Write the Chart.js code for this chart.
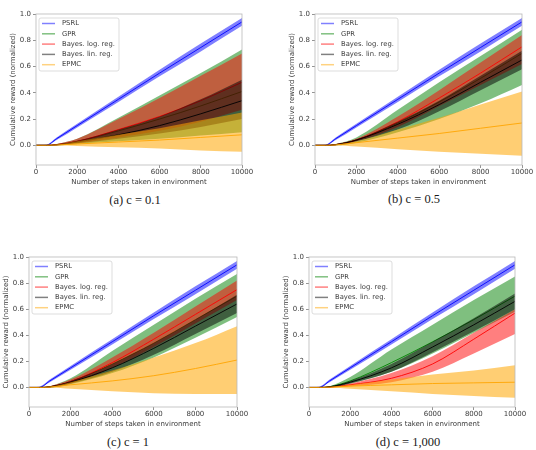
<!DOCTYPE html>
<html>
<head>
<meta charset="utf-8">
<script src="https://cdn.jsdelivr.net/npm/chart.js@4.4.0/dist/chart.umd.min.js"></script>
<style>
  html, body { margin: 0; padding: 0; background: #fff; }
  body { width: 536px; height: 450px; position: relative; overflow: hidden; }
  canvas { position: absolute; }
  .cap { position: absolute; font-family: "Liberation Serif", serif; font-size: 12.5px; color: #1a1a1a;
         transform: translate(-50%, -50%); white-space: nowrap; }
</style>
</head>
<body>
<script>
const steps = [0, 500, 1000, 2000, 4000, 6000, 8000, 10000];
const seriesNames = ['PSRL', 'GPR', 'Bayes. log. reg.', 'Bayes. lin. reg.', 'EPMC'];
const xTicks = [0, 2000, 4000, 6000, 8000, 10000];
const yTicks = [0, 0.2, 0.4, 0.6, 0.8, 1.0];

// PSRL looks the same in all four runs
const psrlMean = [0, 0, 0.05, 0.15, 0.35, 0.55, 0.745, 0.94];
const psrlLo   = [0, 0, 0.04, 0.135, 0.33, 0.525, 0.715, 0.91];
const psrlHi   = [0, 0.005, 0.06, 0.165, 0.37, 0.575, 0.775, 0.97];

// (a) c = 0.1
const aGpr    = [0, 0, 0.005, 0.03, 0.11, 0.2, 0.3, 0.41];
const aGprLo  = [0, 0, 0, 0.01, 0.03, 0.05, 0.075, 0.10];
const aGprHi  = [0, 0, 0.01, 0.05, 0.21, 0.38, 0.55, 0.73];
const aLog    = [0, 0, 0.005, 0.03, 0.12, 0.22, 0.34, 0.48];
const aLogLo  = [0, 0, 0, 0.015, 0.06, 0.11, 0.18, 0.27];
const aLogHi  = [0, 0, 0.01, 0.05, 0.2, 0.36, 0.53, 0.70];
const aLin    = [0, 0, 0.003, 0.025, 0.08, 0.15, 0.24, 0.34];
const aLinLo  = [0, 0, 0, 0.015, 0.05, 0.09, 0.14, 0.20];
const aLinHi  = [0, 0, 0.005, 0.035, 0.12, 0.22, 0.35, 0.50];
const aEpmc   = [0, 0, 0.002, 0.01, 0.025, 0.04, 0.06, 0.08];
const aEpmcLo = [0, 0, 0, -0.005, -0.015, -0.025, -0.04, -0.05];
const aEpmcHi = [0, 0, 0.005, 0.03, 0.08, 0.13, 0.19, 0.25];

// (b) c = 0.5
const bGpr    = [0, 0, 0.005, 0.04, 0.17, 0.33, 0.51, 0.70];
const bGprLo  = [0, 0, 0, 0.02, 0.1, 0.2, 0.32, 0.46];
const bGprHi  = [0, 0, 0.01, 0.06, 0.27, 0.48, 0.68, 0.88];
const bLog    = [0, 0, 0.005, 0.04, 0.18, 0.36, 0.55, 0.75];
const bLogLo  = [0, 0, 0, 0.03, 0.14, 0.3, 0.46, 0.62];
const bLogHi  = [0, 0, 0.01, 0.05, 0.22, 0.42, 0.63, 0.84];
const bLin    = [0, 0, 0.005, 0.04, 0.16, 0.31, 0.48, 0.65];
const bLinLo  = [0, 0, 0, 0.03, 0.12, 0.26, 0.42, 0.58];
const bLinHi  = [0, 0, 0.008, 0.045, 0.18, 0.34, 0.53, 0.72];
const bEpmc   = [0, 0, 0.003, 0.02, 0.055, 0.09, 0.13, 0.17];
const bEpmcLo = [0, 0, 0, -0.01, -0.03, -0.05, -0.065, -0.08];
const bEpmcHi = [0, 0, 0.005, 0.03, 0.12, 0.21, 0.31, 0.41];

// (c) c = 1
const cGpr    = [0, 0, 0.005, 0.045, 0.18, 0.34, 0.52, 0.70];
const cGprLo  = [0, 0, 0, 0.025, 0.11, 0.23, 0.38, 0.54];
const cGprHi  = [0, 0, 0.01, 0.07, 0.28, 0.48, 0.68, 0.87];
const cLog    = [0, 0, 0.005, 0.045, 0.19, 0.37, 0.56, 0.75];
const cLogLo  = [0, 0, 0, 0.03, 0.15, 0.31, 0.49, 0.67];
const cLogHi  = [0, 0, 0.01, 0.06, 0.23, 0.42, 0.62, 0.82];
const cLin    = [0, 0, 0.005, 0.04, 0.15, 0.30, 0.47, 0.64];
const cLinLo  = [0, 0, 0, 0.03, 0.12, 0.25, 0.41, 0.57];
const cLinHi  = [0, 0, 0.008, 0.05, 0.18, 0.34, 0.52, 0.71];
const cEpmc   = [0, 0, 0.003, 0.02, 0.05, 0.09, 0.145, 0.21];
const cEpmcLo = [0, 0, 0, -0.01, -0.03, -0.045, -0.05, -0.05];
const cEpmcHi = [0, 0, 0.005, 0.04, 0.13, 0.23, 0.34, 0.47];

// (d) c = 1,000
const dGpr    = [0, 0, 0.005, 0.05, 0.19, 0.35, 0.52, 0.70];
const dGprLo  = [0, 0, 0, 0.03, 0.12, 0.26, 0.42, 0.58];
const dGprHi  = [0, 0, 0.01, 0.08, 0.29, 0.48, 0.67, 0.85];
const dLog    = [0, 0, 0.003, 0.02, 0.07, 0.18, 0.37, 0.57];
const dLogLo  = [0, 0, 0, 0.01, 0.04, 0.12, 0.26, 0.41];
const dLogHi  = [0, 0, 0.005, 0.03, 0.11, 0.24, 0.42, 0.60];
const dLin    = [0, 0, 0.005, 0.04, 0.15, 0.31, 0.48, 0.66];
const dLinLo  = [0, 0, 0, 0.03, 0.12, 0.27, 0.43, 0.60];
const dLinHi  = [0, 0, 0.008, 0.05, 0.18, 0.35, 0.53, 0.72];
const dEpmc   = [0, 0, 0.002, 0.01, 0.02, 0.03, 0.035, 0.04];
const dEpmcLo = [0, 0, 0, -0.01, -0.03, -0.05, -0.065, -0.08];
const dEpmcHi = [0, 0, 0.004, 0.02, 0.06, 0.1, 0.13, 0.17];

// colours (matplotlib named colours)
const lineColors = ['#0000ff', '#008000', '#ff0000', '#000000', '#ffa500'];
const bandColors = ['rgba(0,0,255,0.5)', 'rgba(0,128,0,0.5)', 'rgba(255,0,0,0.5)', 'rgba(0,0,0,0.5)', 'rgba(255,165,0,0.55)'];
const legendColors = ['#8080ff', '#80c080', '#ff8080', '#808080', '#ffd280'];

const FONT = '"DejaVu Sans", sans-serif';
const TXT = '#3a3a3a';

const panels = [
  { cap: '(a) c = 0.1', left: 36, top: 14, w: 206, h: 151, capX: 135, capY: 200,
    series: [[psrlMean, psrlLo, psrlHi], [aGpr, aGprLo, aGprHi], [aLog, aLogLo, aLogHi], [aLin, aLinLo, aLinHi], [aEpmc, aEpmcLo, aEpmcHi]] },
  { cap: '(b) c = 0.5', left: 315, top: 14, w: 207, h: 151, capX: 414, capY: 199,
    series: [[psrlMean, psrlLo, psrlHi], [bGpr, bGprLo, bGprHi], [bLog, bLogLo, bLogHi], [bLin, bLinLo, bLinHi], [bEpmc, bEpmcLo, bEpmcHi]] },
  { cap: '(c) c = 1', left: 29, top: 257, w: 208, h: 150, capX: 128, capY: 442,
    series: [[psrlMean, psrlLo, psrlHi], [cGpr, cGprLo, cGprHi], [cLog, cLogLo, cLogHi], [cLin, cLinLo, cLinHi], [cEpmc, cEpmcLo, cEpmcHi]] },
  { cap: '(d) c = 1,000', left: 309, top: 257, w: 206, h: 150, capX: 408, capY: 442,
    series: [[psrlMean, psrlLo, psrlHi], [dGpr, dGprLo, dGprHi], [dLog, dLogLo, dLogHi], [dLin, dLinLo, dLinHi], [dEpmc, dEpmcLo, dEpmcHi]] }
];

const pts = arr => arr.map((y, i) => ({ x: steps[i], y }));

// frame round the plot area
const frame = {
  id: 'frame',
  afterDraw(chart) {
    const { ctx, chartArea: a } = chart;
    ctx.save();
    ctx.strokeStyle = '#b8b8b8';
    ctx.lineWidth = 0.8;
    ctx.strokeRect(a.left, a.top, a.right - a.left, a.bottom - a.top);
    ctx.restore();
  }
};

// matplotlib-like legend in the upper left
const legendBox = {
  id: 'legendBox',
  afterDraw(chart) {
    const { ctx, chartArea: a } = chart;
    const x = a.left + 3, y = a.top + 4, w = 80, h = 53;
    ctx.save();
    ctx.beginPath();
    ctx.roundRect(x, y, w, h, 2);
    ctx.fillStyle = 'rgba(255,255,255,0.8)';
    ctx.fill();
    ctx.strokeStyle = '#d4d4d4';
    ctx.lineWidth = 0.8;
    ctx.stroke();
    ctx.font = '6.8px ' + FONT;
    ctx.textBaseline = 'middle';
    seriesNames.forEach((name, i) => {
      const yy = y + 5.5 + i * 10.3;
      ctx.beginPath();
      ctx.moveTo(x + 3, yy);
      ctx.lineTo(x + 16, yy);
      ctx.strokeStyle = legendColors[i];
      ctx.lineWidth = 1.5;
      ctx.stroke();
      ctx.fillStyle = TXT;
      ctx.fillText(name, x + 23, yy);
    });
    ctx.restore();
  }
};

panels.forEach(p => {
  const cv = document.createElement('canvas');
  const cw = 36 + p.w + 18, ch = 14 + p.h + 21;
  cv.width = cw; cv.height = ch;
  cv.style.left = (p.left - 36) + 'px';
  cv.style.top = (p.top - 14) + 'px';
  cv.style.width = cw + 'px'; cv.style.height = ch + 'px';
  document.body.appendChild(cv);

  const cap = document.createElement('div');
  cap.className = 'cap';
  cap.textContent = p.cap;
  cap.style.left = p.capX + 'px';
  cap.style.top = p.capY + 'px';
  document.body.appendChild(cap);

  const datasets = [];
  p.series.forEach((s, i) => {
    const ord = 10 - i * 2;
    datasets.push({ data: pts(s[1]), borderWidth: 0, pointRadius: 0, fill: false, order: ord,
                    cubicInterpolationMode: 'monotone' });
    datasets.push({ data: pts(s[2]), borderWidth: 0, pointRadius: 0, order: ord,
                    fill: { target: datasets.length - 1 }, backgroundColor: bandColors[i],
                    cubicInterpolationMode: 'monotone' });
    datasets.push({ label: seriesNames[i], data: pts(s[0]), borderColor: lineColors[i], borderWidth: 0.9,
                    pointRadius: 0, fill: false, order: ord - 1, cubicInterpolationMode: 'monotone' });
  });

  new Chart(cv, {
    type: 'line',
    data: { datasets },
    options: {
      responsive: false,
      animation: false,
      devicePixelRatio: 1,
      layout: { padding: { left: 9, top: 14, right: 18, bottom: 0 } },
      plugins: { legend: { display: false }, tooltip: { enabled: false } },
      scales: {
        x: {
          type: 'linear', min: 0, max: 10000,
          afterBuildTicks: s => { s.ticks = xTicks.map(v => ({ value: v })); },
          afterFit: s => { s.height = 21; },
          ticks: { font: { family: FONT, size: 7 }, color: TXT, padding: 0, maxRotation: 0,
                   callback: v => String(v) },
          grid: { drawOnChartArea: false, tickLength: 3, tickColor: '#666', tickWidth: 0.7 },
          border: { display: false },
          title: { display: true, text: 'Number of steps taken in environment', color: TXT,
                   font: { family: FONT, size: 7 }, padding: 0 }
        },
        y: {
          min: -0.15, max: 1.0,
          afterBuildTicks: s => { s.ticks = yTicks.map(v => ({ value: v })); },
          afterFit: s => { s.width = 27; },
          ticks: { font: { family: FONT, size: 7 }, color: TXT, padding: 2,
                   callback: v => v.toFixed(1) },
          grid: { drawOnChartArea: false, tickLength: 3, tickColor: '#666', tickWidth: 0.7 },
          border: { display: false },
          title: { display: true, text: 'Cumulative reward (normalized)', color: TXT,
                   font: { family: FONT, size: 7 }, padding: 0 }
        }
      }
    },
    plugins: [frame, legendBox]
  });
});
</script>
</body>
</html>
